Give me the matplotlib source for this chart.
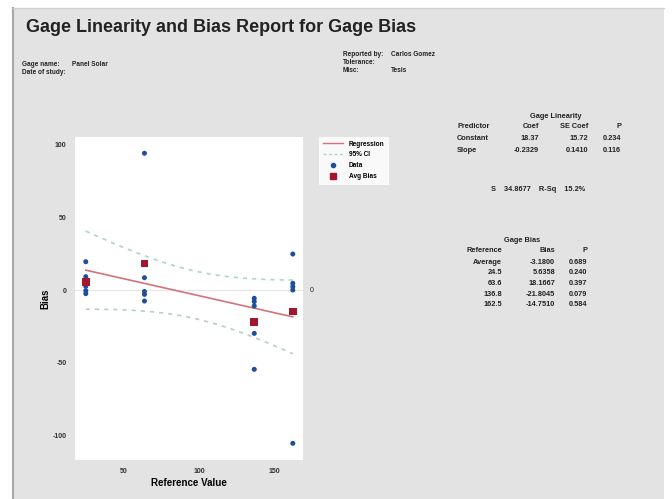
import numpy as np
import matplotlib
matplotlib.use("Agg")
import matplotlib.pyplot as plt
from matplotlib.lines import Line2D
from matplotlib.patches import Rectangle

# ---------------- data ----------------
ref_levels = [24.5, 63.6, 136.8, 162.5]
bias_24 = [19.5, 9.2, 2.5, -0.5, -2.5]
bias_63 = [94.3, 8.5, -1.0, -3.0, -7.6]
bias_136 = [-5.7, -8.0, -11.0, -29.9, -54.7]
bias_162 = [24.8, 4.6, 2.3, 0.0, -105.7]
groups = [bias_24, bias_63, bias_136, bias_162]

lin_rows = ["Constant", "Slope"]
lin_coef = ["18.37", "-0.2329"]
lin_se = ["15.72", "0.1410"]
lin_p = ["0.234", "0.116"]
s_text = "34.8677"
rsq_text = "15.2%"

bias_refs = ["Average", "24.5", "63.6", "136.8", "162.5"]
bias_vals = ["-3.1800", "5.6358", "18.1667", "-21.8045", "-14.7510"]
bias_p = ["0.689", "0.240", "0.397", "0.079", "0.584"]

t_crit = 2.1009  # t(0.975, 18)

# ---------------- figure ----------------
W, H = 672, 499
plt.rcParams["axes.unicode_minus"] = False
fig = plt.figure(figsize=(W / 100, H / 100), dpi=100)
fig.patch.set_facecolor("white")
FAM = ["Liberation Sans", "DejaVu Sans"]
plt.rcParams["font.family"] = FAM

def fx(x):
    return x / W

def fy(y):
    return 1 - y / H

# gray panel
fig.patches.append(Rectangle((fx(13), 0), fx(664) - fx(13), fy(8), transform=fig.transFigure,
                             facecolor="#e3e3e3", edgecolor="none", zorder=-10))
fig.add_artist(Line2D([fx(13), fx(13)], [0, fy(8)], color="#a8a8a8", lw=1.5,
                      transform=fig.transFigure, zorder=-5))
fig.add_artist(Line2D([fx(13), fx(664)], [fy(8), fy(8)], color="#d0d0d0", lw=1.0,
                      transform=fig.transFigure, zorder=-5))

def T(x, y, s, size=5.3, ha="left", weight="bold", **kw):
    fig.text(fx(x), fy(y), s, fontsize=size, ha=ha, va="center", fontweight=weight,
             color="#222222", family=FAM, **kw)

# title and header
T(26, 28, "Gage Linearity and Bias Report for Gage Bias", size=13)
T(22, 64, "Gage name:", size=4.7)
T(72, 64, "Panel Solar", size=4.7)
T(22, 72, "Date of study:", size=4.7)
T(343, 55, "Reported by:", size=4.7)
T(391, 55, "Carlos Gomez", size=4.7)
T(343, 63, "Tolerance:", size=4.7)
T(343, 71, "Misc:", size=4.7)
T(391, 71, "Tesis", size=4.7)

# ---------------- axes ----------------
ax = fig.add_axes([fx(75), fy(460), fx(303) - fx(75), fy(137) - fy(460)])
ax.set_facecolor("white")
for sp in ax.spines.values():
    sp.set_visible(False)

xs = np.concatenate([[r] * len(g) for r, g in zip(ref_levels, groups)])
ys = np.concatenate(groups)
n = len(xs)
b1, b0 = np.polyfit(xs, ys, 1)
resid = ys - (b0 + b1 * xs)
S = np.sqrt(np.sum(resid ** 2) / (n - 2))
xbar = xs.mean()
Sxx = np.sum((xs - xbar) ** 2)
xl = np.linspace(min(ref_levels), max(ref_levels), 100)
yl = b0 + b1 * xl
half = t_crit * S * np.sqrt(1 / n + (xl - xbar) ** 2 / Sxx)

ax.axhline(0, color="#e6e6e6", lw=0.8, zorder=1)
ax.plot(xl, yl, color="#d2727b", lw=1.2, zorder=2)
ax.plot(xl, yl + half, color="#a9d9c4", lw=1.2, ls=(0, (2.5, 3)), zorder=2)
ax.plot(xl, yl - half, color="#b8d0c2", lw=1.2, ls=(0, (2.5, 3)), zorder=2)
ax.scatter(xs, ys, s=13, color="#1f4f9a", zorder=3, edgecolors="none")
avg = [np.mean(g) for g in groups]
ax.scatter(ref_levels, avg, s=32, marker="s", color="#a3162e", zorder=4, edgecolors="none")

ax.set_xlim(17.3, 169.3)
ax.set_ylim(-117.2, 105.5)
ax.set_xticks([50, 100, 150])
ax.set_yticks([-100, -50, 0, 50, 100])
ax.tick_params(axis="both", length=0, labelsize=5, pad=6, colors="#333333")
for lab in ax.get_xticklabels() + ax.get_yticklabels():
    lab.set_fontweight("bold")
ax.set_xlabel("Reference Value", fontsize=7, fontweight="bold", labelpad=2)
ax.set_ylabel("Bias", fontsize=7, fontweight="bold", labelpad=2)
T(310, 291, "0", size=5, weight="normal")

# legend
handles = [Line2D([], [], color="#d2727b", lw=1.0),
           Line2D([], [], color="#a9d9c4", lw=1.0, ls=(0, (2, 2))),
           Line2D([], [], color="#1f4f9a", marker="o", ls="none", markersize=3),
           Line2D([], [], color="#a3162e", marker="s", ls="none", markersize=4)]
leg = fig.legend(handles, ["Regression", "95% CI", "Data", "Avg Bias"],
                 loc="upper left", bbox_to_anchor=(fx(318), fy(136)), fontsize=4.7,
                 frameon=True, fancybox=False, edgecolor="#dddddd", handlelength=3.2,
                 borderpad=0.7, labelspacing=0.6, handletextpad=0.8, borderaxespad=0)
leg.get_frame().set_linewidth(0.5)
for t in leg.get_texts():
    t.set_fontweight("bold")

# Gage Linearity table
T(556, 116, "Gage Linearity", ha="center")
T(457, 127, "Predictor")
T(539, 127, "Coef", ha="right")
T(588, 127, "SE Coef", ha="right")
T(621, 127, "P", ha="right")
for i, (r, c, se, p) in enumerate(zip(lin_rows, lin_coef, lin_se, lin_p)):
    yy = 139 + i * 11.5
    T(457, yy, r)
    T(539, yy, c, ha="right")
    T(588, yy, se, ha="right")
    T(621, yy, p, ha="right")
T(538, 190, "S    " + s_text + "    R-Sq    " + rsq_text, ha="center")

# Gage Bias table
T(522, 240, "Gage Bias", ha="center")
T(502, 251, "Reference", ha="right")
T(555, 251, "Bias", ha="right")
T(587, 251, "P", ha="right")
for i, (r, b, p) in enumerate(zip(bias_refs, bias_vals, bias_p)):
    yy = 262 + i * 10.7
    T(502, yy, r, ha="right")
    T(555, yy, b, ha="right")
    T(587, yy, p, ha="right")

fig.savefig("out.png", dpi=100, facecolor=fig.get_facecolor())
